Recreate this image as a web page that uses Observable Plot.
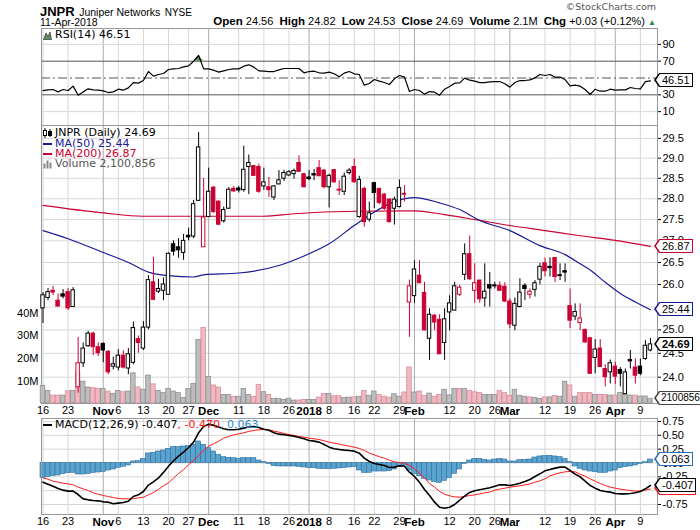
<!DOCTYPE html>
<html>
<head>
<meta charset="utf-8">
<script src="https://cdn.jsdelivr.net/npm/d3@7"></script>
<script src="https://cdn.jsdelivr.net/npm/@observablehq/plot@0.6"></script>
<style>
  html,body{margin:0;padding:0;background:#fff;}
  #wrap{position:relative;width:700px;height:530px;overflow:hidden;font-family:"Liberation Sans",Arial,sans-serif;color:#000;background:#fff;}
  .abs{position:absolute;white-space:nowrap;}
  .leg{position:absolute;white-space:nowrap;font-family:"DejaVu Sans",Verdana,sans-serif;font-size:11px;line-height:12px;height:12px;display:flex;align-items:center;z-index:20;}
  .leg svg{margin-right:3px;}
  .tag{position:absolute;z-index:15;background:#fff;border:1px solid #000;font-family:"Liberation Sans",Arial,sans-serif;font-size:11px;line-height:12px;height:12px;padding:0 2px 0 2px;white-space:nowrap;color:#000;}
  .tag .po{position:absolute;left:-6px;top:-1px;width:0;height:0;border-style:solid;border-width:7px 5px 7px 0;border-color:transparent;}
  .tag .pi{position:absolute;left:-4px;top:0px;width:0;height:0;border-style:solid;border-width:6px 4px 6px 0;border-color:transparent #fff transparent transparent;}
</style>
</head>
<body>
<div id="wrap"></div>
<script>
// ---------- DATA (trading days 16-Oct-2017 .. 11-Apr-2018, index 0..121) ----------
const openP = [
25.47,25.70,25.86,25.64,25.78,25.83,25.50,23.79,24.29,24.65,
24.92,24.63,24.70,24.53,24.22,24.20,24.45,24.18,24.30,24.80,
24.60,25.05,26.05,25.84,25.86,25.77,26.92,26.85,26.72,27.12,
27.10,27.95,26.85,27.56,28.27,27.93,27.46,27.76,28.24,28.25,
28.21,28.78,28.80,28.78,28.30,28.28,28.03,28.35,28.49,28.57,
28.60,28.88,28.60,28.52,28.60,28.75,28.69,28.28,28.70,28.22,
28.17,28.63,28.78,27.56,28.24,27.50,28.38,28.24,28.10,27.98,
27.76,27.80,28.12,25.60,25.74,26.20,25.81,24.81,25.31,25.22,
24.72,25.38,25.42,25.77,26.22,26.69,25.86,26.09,25.69,25.99,
25.98,25.97,25.95,25.62,25.09,25.50,25.97,25.77,25.88,26.11,
26.48,26.40,26.60,26.21,26.30,25.52,25.29,25.15,25.00,24.82,
24.40,24.60,24.17,24.10,24.22,24.15,23.65,24.36,24.20,24.22,
24.38,24.56];
const highP = [
25.82,25.91,25.96,25.79,25.89,25.91,25.93,24.84,24.72,24.97,
24.95,24.72,24.72,24.56,24.42,24.58,24.55,24.60,25.17,24.87,
25.18,26.20,26.62,26.12,26.15,26.72,27.00,27.05,27.15,27.30,
27.96,29.65,28.50,28.75,28.30,27.95,27.80,28.27,28.30,28.30,
29.30,29.08,28.82,28.85,28.75,28.52,28.32,28.69,28.70,28.69,
28.73,29.06,28.61,28.69,28.72,28.94,28.72,28.60,28.72,28.44,
28.63,28.74,28.98,28.55,28.28,27.92,28.40,28.25,28.13,28.00,
28.04,28.46,28.32,26.10,26.54,26.54,26.05,25.46,25.33,25.33,
25.46,25.75,26.05,25.98,26.93,27.11,26.47,26.09,26.47,26.27,
26.05,26.06,26.04,25.68,25.70,26.13,26.02,25.90,26.09,26.48,
26.60,26.61,26.61,26.47,26.47,25.90,25.57,25.57,25.02,24.84,
24.79,24.79,24.26,24.36,24.31,24.20,24.17,24.56,24.38,24.38,
24.77,24.82];
const lowP = [
25.14,25.64,25.75,25.50,25.68,25.42,25.50,23.67,24.20,24.63,
24.45,24.43,24.30,24.05,24.15,24.13,24.17,24.05,24.26,24.50,
24.56,25.00,25.64,25.80,25.64,25.77,26.65,26.60,26.55,27.00,
27.05,27.93,26.85,27.55,27.65,27.36,27.42,27.74,28.15,28.14,
28.16,28.10,28.55,28.13,28.20,28.03,27.96,28.34,28.42,28.54,
28.48,28.65,28.26,28.44,28.44,28.55,28.24,27.78,28.38,28.08,
28.08,28.58,28.38,27.53,27.32,27.44,27.76,27.86,27.72,27.42,
27.37,27.78,27.92,24.84,25.58,26.02,24.98,24.35,24.98,24.47,
24.35,24.98,25.42,25.73,26.09,26.09,25.58,25.58,25.50,25.50,
25.90,25.85,25.60,25.03,24.98,25.48,25.64,25.68,25.72,25.99,
26.17,26.17,26.04,26.09,26.05,25.03,25.20,24.98,24.72,24.06,
24.07,24.20,23.80,23.86,23.85,23.80,23.65,24.17,23.86,24.03,
24.35,24.53];
const closeP = [
25.76,25.83,25.82,25.51,25.73,25.47,25.87,24.29,24.60,24.92,
24.63,24.50,24.56,24.10,24.27,24.45,24.20,24.48,25.04,24.72,
25.05,26.10,25.66,25.90,26.00,26.70,26.75,26.78,27.00,27.08,
27.87,29.27,27.55,28.17,27.68,27.38,27.73,28.22,28.18,28.20,
28.71,28.88,28.56,28.17,28.40,28.21,28.30,28.45,28.63,28.65,
28.68,28.66,28.28,28.48,28.57,28.55,28.28,28.56,28.40,28.20,
28.54,28.69,28.40,28.46,27.44,27.65,28.14,27.90,27.76,27.44,
27.98,28.26,28.10,25.96,26.34,26.03,24.99,25.33,25.16,24.48,
25.23,25.58,25.96,25.93,26.69,26.12,26.03,25.67,25.84,25.91,
25.96,25.86,25.62,25.12,25.57,25.82,25.90,25.84,26.03,26.40,
26.30,26.37,26.17,26.19,26.27,25.20,25.39,25.25,24.73,24.07,
24.58,24.21,24.00,24.29,24.01,24.07,24.10,24.33,24.03,24.07,
24.66,24.69];
const volumeM = [
7.8,5.6,3.5,3.5,3.5,5.4,5.6,13.7,9.7,7.1,
6.8,6.5,6.5,5.3,4.3,5.6,5.0,5.3,13.4,7.1,
6.1,12.4,8.5,5.6,4.6,6.5,5.3,4.6,2.4,6.5,
8.7,28.2,33.6,11.8,8.0,7.1,3.8,3.8,3.0,3.0,
6.5,3.8,3.0,8.3,5.0,3.8,2.1,2.1,1.6,2.1,
1.3,1.3,1.6,1.6,1.6,2.6,4.2,4.2,3.2,3.2,
2.4,2.6,2.7,3.0,5.6,3.4,5.3,3.8,3.0,2.6,
4.1,3.0,4.9,16.0,4.9,5.3,3.4,4.4,3.0,3.8,
6.1,3.6,6.5,6.5,6.5,5.6,5.0,4.6,3.8,3.8,
3.8,5.6,4.6,3.4,6.1,3.4,3.0,2.7,2.4,2.0,
2.7,2.7,3.4,3.0,9.7,8.0,3.0,4.6,4.6,4.6,
3.8,3.8,3.8,3.5,3.5,4.6,3.8,3.5,3.5,3.1,
3.1,2.100856];
const rsi14 = [
35.1,35.9,36.3,33.5,36.3,35.1,40.3,29.5,33.5,37.1,
35.9,35.5,34.7,32.7,33.5,36.7,35.5,38.3,44.6,43.9,
47.0,57.7,52.2,54.2,55.4,60.1,60.9,61.3,63.3,64.5,
70.0,76.8,60.9,60.9,59.3,57.0,58.5,60.1,60.9,60.9,
64.1,65.7,62.9,58.5,58.1,57.7,57.7,59.7,61.3,61.3,
61.3,61.3,56.2,57.7,58.1,56.2,55.8,57.0,55.0,51.4,
55.8,57.7,55.0,54.2,41.5,43.5,48.2,46.3,44.7,42.3,
49.0,53.0,51.0,33.9,36.3,35.1,30.8,33.9,33.1,29.6,
36.7,39.9,43.9,44.2,49.8,47.4,46.2,44.6,44.6,45.4,
45.8,45.8,43.1,39.1,44.6,47.0,47.0,47.8,50.2,54.2,
53.0,54.2,51.0,51.0,48.2,40.7,41.5,40.3,36.3,30.4,
36.7,34.3,34.3,36.7,35.5,35.9,35.9,38.7,37.5,37.1,
45.8,46.51];
const macdLine = [
-0.347,-0.383,-0.419,-0.461,-0.491,-0.509,-0.509,-0.570,-0.648,-0.666,
-0.678,-0.684,-0.702,-0.708,-0.738,-0.726,-0.714,-0.690,-0.606,-0.576,
-0.515,-0.400,-0.340,-0.270,-0.170,-0.060,0.040,0.124,0.196,0.280,
0.377,0.546,0.660,0.700,0.680,0.650,0.620,0.600,0.600,0.610,
0.630,0.650,0.660,0.640,0.610,0.590,0.546,0.521,0.509,0.497,
0.485,0.461,0.437,0.407,0.395,0.377,0.335,0.286,0.256,0.244,
0.232,0.226,0.214,0.178,0.087,0.027,-0.009,-0.027,-0.045,-0.081,
-0.075,-0.051,-0.057,-0.166,-0.244,-0.347,-0.479,-0.588,-0.708,-0.799,
-0.817,-0.799,-0.750,-0.672,-0.600,-0.533,-0.503,-0.485,-0.467,-0.449,
-0.419,-0.395,-0.395,-0.407,-0.389,-0.365,-0.335,-0.298,-0.244,-0.196,
-0.142,-0.118,-0.093,-0.075,-0.075,-0.136,-0.202,-0.250,-0.329,-0.407,
-0.455,-0.497,-0.515,-0.527,-0.552,-0.558,-0.558,-0.552,-0.539,-0.515,
-0.467,-0.407];
const macdSignal = [
-0.268,-0.292,-0.328,-0.347,-0.365,-0.377,-0.395,-0.437,-0.467,-0.497,
-0.539,-0.564,-0.588,-0.606,-0.624,-0.642,-0.648,-0.648,-0.648,-0.630,
-0.618,-0.576,-0.533,-0.479,-0.413,-0.359,-0.274,-0.190,-0.118,-0.033,
0.045,0.136,0.226,0.304,0.347,0.395,0.449,0.479,0.509,0.527,
0.546,0.570,0.588,0.600,0.606,0.600,0.576,0.558,0.533,0.515,
0.497,0.479,0.467,0.449,0.437,0.425,0.401,0.377,0.359,0.341,
0.322,0.304,0.286,0.262,0.226,0.178,0.148,0.112,0.087,0.051,
0.021,0.009,-0.003,-0.045,-0.105,-0.190,-0.270,-0.370,-0.437,-0.515,
-0.564,-0.594,-0.612,-0.618,-0.606,-0.588,-0.576,-0.558,-0.539,-0.527,
-0.491,-0.473,-0.455,-0.437,-0.425,-0.413,-0.395,-0.377,-0.347,-0.322,
-0.286,-0.232,-0.202,-0.178,-0.160,-0.154,-0.160,-0.202,-0.238,-0.286,
-0.328,-0.371,-0.407,-0.437,-0.455,-0.473,-0.485,-0.497,-0.509,-0.503,
-0.491,-0.470];
const macdHist = [
-0.274,-0.256,-0.238,-0.226,-0.202,-0.184,-0.178,-0.208,-0.208,-0.202,
-0.178,-0.172,-0.160,-0.136,-0.118,-0.087,-0.069,-0.045,0.027,0.033,
0.075,0.172,0.184,0.208,0.226,0.256,0.286,0.286,0.298,0.304,
0.328,0.389,0.328,0.268,0.208,0.148,0.105,0.093,0.087,0.075,
0.087,0.087,0.087,0.045,0.015,-0.015,-0.057,-0.063,-0.063,-0.063,
-0.063,-0.069,-0.081,-0.093,-0.093,-0.105,-0.111,-0.111,-0.105,-0.099,
-0.093,-0.081,-0.075,-0.136,-0.178,-0.178,-0.154,-0.154,-0.154,-0.148,
-0.118,-0.069,-0.045,-0.136,-0.196,-0.238,-0.286,-0.316,-0.347,-0.359,
-0.322,-0.274,-0.196,-0.118,-0.015,0.045,0.075,0.075,0.057,0.045,
0.063,0.075,0.063,0.027,0.027,0.051,0.057,0.063,0.099,0.118,
0.124,0.130,0.118,0.105,0.075,0.015,-0.063,-0.105,-0.136,-0.154,
-0.166,-0.178,-0.178,-0.154,-0.136,-0.093,-0.075,-0.063,-0.045,-0.015,
0.015,0.063];
const ma50Idx = [0,5,12,17,21,25,30,32,39,47,52,57,62,66,70,74,79,83,87,93,99,104,107,109,112,115,118,121];
const ma50Val = [27.24,27.05,26.73,26.50,26.28,26.20,26.17,26.22,26.26,26.43,26.65,26.93,27.36,27.68,27.93,28.03,27.90,27.74,27.48,27.24,26.89,26.68,26.47,26.33,26.05,25.80,25.61,25.44];
const ma200Idx = [0,12,20,32,44,50,62,74,80,87,93,100,107,114,121];
const ma200Val = [27.84,27.66,27.58,27.58,27.58,27.64,27.70,27.71,27.62,27.48,27.36,27.24,27.12,27.01,26.87];
const tickIdx = [0,5,12,15,20,25,29,33,39,44,49,53,57,62,66,71,74,81,86,90,93,100,105,110,114,119];
const tickLabel = ["16","23","Nov","6","13","20","27","Dec","11","18","26","2018","8","16","22","29","Feb","12","20","26","Mar","12","19","26","Apr","9"];
const monthNames = ["Nov","Dec","2018","Feb","Mar","Apr"];
const priceTicks = [24,24.5,25,25.5,26,26.5,27,27.5,28,28.5,29,29.5];
const volTicks = [10,20,30,40];
const rsiTicks = [10,30,70,90];
const macdTicks = [-0.75,-0.5,-0.25,0,0.25,0.5,0.75];

// ---------- derived tables ----------
const RED = "#cc0033", NAVY = "#1a1a96";
const N = closeP.length;
const days = closeP.map((c, i) => ({
  i, o: openP[i], h: highP[i], l: lowP[i], c, v: volumeM[i],
  up: i === 0 || c >= closeP[i - 1], hollow: c > openP[i]
}));
const tickMap = new Map(tickIdx.map((t, k) => [t, tickLabel[k]]));
const monthTicks = tickIdx.filter(t => monthNames.includes(tickMap.get(t)));
const weekTicks = tickIdx.filter(t => !monthNames.includes(tickMap.get(t)));
const ma50 = ma50Idx.map((i, k) => ({i, v: ma50Val[k]}));
const ma200 = ma200Idx.map((i, k) => ({i, v: ma200Val[k]}));
const rsiData = rsi14.map((r, i) => ({i, r}));
const macdData = macdLine.map((m, i) => ({i, m, s: macdSignal[i], h: macdHist[i]}));

const XD = [-0.3, 122.41];
const ML = 41, MR = 43;
const baseStyle = {background: "transparent", overflow: "visible", fontFamily: "Liberation Sans, Arial, sans-serif", fontSize: "11px", color: "#000"};
const wrap = document.getElementById("wrap");
function place(node, top, z) {
  node.style.position = "absolute";
  node.style.left = "0px";
  node.style.top = top + "px";
  node.style.zIndex = z;
  wrap.appendChild(node);
  return node;
}
const vGrid = () => [
  Plot.ruleX(weekTicks, {stroke: "#d6d6d6"}),
  Plot.ruleX(monthTicks, {stroke: "#ababab"})
];
const xAxes = () => [
  Plot.axisX(weekTicks, {anchor: "bottom", label: null, tickSize: 0, tickPadding: 3, fontSize: 11, tickFormat: t => tickMap.get(t)}),
  Plot.axisX(monthTicks, {anchor: "bottom", label: null, tickSize: 0, tickPadding: 3, fontSize: 11.5, fontWeight: "bold", tickFormat: t => tickMap.get(t)})
];

// ---------- RSI panel ----------
const TOP_RSI = 27, TOP_MAIN = 124, TOP_MACD = 417;
const rsiChart = Plot.plot({
  width: 700, height: 99, marginTop: 1, marginBottom: 1, marginLeft: ML, marginRight: MR,
  style: baseStyle,
  x: {domain: XD, axis: null, label: null},
  y: {domain: [-6.5, 108.9], label: null},
  marks: [
    ...vGrid(),
    Plot.ruleY([10, 90], {stroke: "#d6d6d6"}),
    Plot.ruleY([30, 70], {stroke: "#555"}),
    Plot.ruleY([50], {stroke: "#555", strokeDasharray: "9,3,2,3"}),
    Plot.areaY(rsiData, {x: "i", y1: 70, y2: d => Math.max(d.r, 70), fill: "#5e8f5e"}),
    Plot.line(rsiData, {x: "i", y: "r", stroke: "#000", strokeWidth: 1.2}),
    Plot.axisY(rsiTicks, {anchor: "right", label: null, tickSize: 3, tickPadding: 2, fontSize: 11, tickFormat: d => String(d)}),
    Plot.frame({stroke: "#999"})
  ]
});
place(rsiChart, TOP_RSI, 1);

// ---------- main panel: grid layer ----------
const YD = [23.46, 29.83];
const mainGrid = Plot.plot({
  width: 700, height: 294, marginTop: 1, marginBottom: 15, marginLeft: ML, marginRight: MR,
  style: baseStyle,
  x: {domain: XD, label: null},
  y: {type: "log", domain: YD, label: null},
  marks: [
    Plot.ruleY(priceTicks, {stroke: "#d6d6d6"}),
    ...vGrid(),
    Plot.axisY(priceTicks, {anchor: "right", label: null, tickSize: 3, tickPadding: 2, fontSize: 11, tickFormat: d => d.toFixed(1)}),
    ...xAxes(),
    Plot.frame({stroke: "#999"})
  ]
});
place(mainGrid, TOP_MAIN, 2);

// ---------- main panel: volume layer ----------
const volChart = Plot.plot({
  width: 700, height: 294, marginTop: 1, marginBottom: 15, marginLeft: ML, marginRight: MR,
  style: baseStyle,
  x: {domain: XD, axis: null, label: null},
  y: {domain: [0, 123.4], label: null},
  color: {type: "identity"},
  marks: [
    Plot.rect(days, {x1: d => d.i - 0.45, x2: d => d.i + 0.45, y1: 0, y2: "v",
      fill: d => d.up ? "#bdbdbd" : "#f0b9c1", stroke: d => d.up ? "#8f8f8f" : "#d98d9b", strokeWidth: 0.8}),
    Plot.axisY(volTicks, {anchor: "left", label: null, tickSize: 0, tickPadding: 3, fontSize: 11, tickFormat: d => d + "M"})
  ]
});
place(volChart, TOP_MAIN, 3);

// ---------- main panel: price layer ----------
const priceChart = Plot.plot({
  width: 700, height: 294, marginTop: 1, marginBottom: 15, marginLeft: ML, marginRight: MR,
  style: baseStyle,
  x: {domain: XD, axis: null, label: null},
  y: {type: "log", domain: YD, axis: null, label: null},
  color: {type: "identity"},
  marks: [
    Plot.line(ma200, {x: "i", y: "v", stroke: RED, strokeWidth: 1.2, curve: "monotone-x"}),
    Plot.line(ma50, {x: "i", y: "v", stroke: NAVY, strokeWidth: 1.2, curve: "monotone-x"}),
    Plot.ruleX(days, {x: "i", y1: "l", y2: "h", stroke: d => d.up ? "#000" : RED, strokeWidth: 1}),
    Plot.rect(days, {x1: d => d.i - 0.34, x2: d => d.i + 0.34,
      y1: d => Math.min(d.o, d.c), y2: d => Math.max(d.o, d.c),
      fill: d => d.hollow ? "#fff" : (d.up ? "#000" : RED), stroke: d => d.up ? "#000" : RED, strokeWidth: 1})
  ]
});
place(priceChart, TOP_MAIN, 4);

// ---------- MACD panel ----------
const macdChart = Plot.plot({
  width: 700, height: 113, marginTop: 1, marginBottom: 16, marginLeft: ML, marginRight: MR,
  style: baseStyle,
  x: {domain: XD, label: null},
  y: {domain: [-0.931, 0.804], label: null},
  marks: [
    Plot.ruleY(macdTicks, {stroke: "#d6d6d6"}),
    ...vGrid(),
    Plot.rect(macdData, {x1: d => d.i - 0.5, x2: d => d.i + 0.5, y1: 0, y2: "h", fill: "#5aa3cf", stroke: "#2e6e9e", strokeWidth: 0.6}),
    Plot.line(macdData, {x: "i", y: "s", stroke: "#ff1a1a", strokeWidth: 1}),
    Plot.line(macdData, {x: "i", y: "m", stroke: "#000", strokeWidth: 1.6}),
    Plot.axisY(macdTicks, {anchor: "right", label: null, tickSize: 3, tickPadding: 2, fontSize: 11, tickFormat: d => d.toFixed(2)}),
    ...xAxes(),
    Plot.frame({stroke: "#999"})
  ]
});
place(macdChart, TOP_MACD, 5);

// ---------- value tags on the right axis (positions from the Plot scales) ----------
function addTag(chart, top, value, label, color, bold, size) {
  const y = chart.scale("y").apply(value) + top;
  const x = chart.scale("x").range[1];
  const d = document.createElement("div");
  d.className = "tag";
  d.style.left = (x + 2) + "px";
  d.style.top = (y - 7) + "px";
  d.style.borderColor = color;
  if (bold) d.style.fontWeight = "bold";
  if (size) { d.style.fontSize = size + "px"; d.style.paddingLeft = "1px"; }
  d.innerHTML = `<span class="po" style="border-right-color:${color}"></span><span class="pi"></span>${label}`;
  wrap.appendChild(d);
}
addTag(rsiChart, TOP_RSI, rsi14[N - 1], rsi14[N - 1].toFixed(2), "#000", false);
addTag(priceChart, TOP_MAIN, ma200Val[ma200Val.length - 1], ma200Val[ma200Val.length - 1].toFixed(2), RED, false);
addTag(priceChart, TOP_MAIN, ma50Val[ma50Val.length - 1], ma50Val[ma50Val.length - 1].toFixed(2), NAVY, false);
addTag(priceChart, TOP_MAIN, closeP[N - 1], closeP[N - 1].toFixed(2), "#000", true);
addTag(volChart, TOP_MAIN, volumeM[N - 1], String(Math.round(volumeM[N - 1] * 1e6)), "#444", false, 10);
addTag(macdChart, TOP_MACD, macdSignal[N - 1], macdSignal[N - 1].toFixed(3), "#ff1a1a", false);
addTag(macdChart, TOP_MACD, macdLine[N - 1], macdLine[N - 1].toFixed(3), "#000", false);
addTag(macdChart, TOP_MACD, macdHist[N - 1], macdHist[N - 1].toFixed(3), "#2a6fb5", false);

// ---------- header ----------
function div(html, style) {
  const d = document.createElement("div");
  d.className = "abs";
  d.setAttribute("style", style);
  d.innerHTML = html;
  d.style.zIndex = 20;
  wrap.appendChild(d);
  return d;
}
const chg = closeP[N - 1] - closeP[N - 2];
const pct = chg / closeP[N - 2] * 100;
const sgn = v => (v >= 0 ? "+" : "-") + Math.abs(v).toFixed(2);
div('<span style="font-weight:bold;font-size:13px">JNPR</span> <span style="font-size:10.5px">Juniper Networks</span> <span style="font-size:10px">NYSE</span>', "left:40px;top:2px;");
div('11-Apr-2018', "left:40px;top:16px;font-size:10.5px;");
div(`<b style="font-size:11.5px">Open</b> ${openP[N-1].toFixed(2)} &nbsp;<b style="font-size:11.5px">High</b> ${highP[N-1].toFixed(2)} &nbsp;<b style="font-size:11.5px">Low</b> ${lowP[N-1].toFixed(2)} &nbsp;<b style="font-size:11.5px">Close</b> ${closeP[N-1].toFixed(2)} &nbsp;<b style="font-size:11.5px">Volume</b> ${volumeM[N-1].toFixed(1)}M &nbsp;<b style="font-size:11.5px">Chg</b> ${sgn(chg)} (${sgn(pct)}%) <span style="color:#1f8a3a;font-size:8px">&#9650;</span>`,
  "right:44px;top:15px;font-size:11px;");
div('&copy;StockCharts.com', "right:44px;top:1px;font-family:'DejaVu Sans',Verdana,sans-serif;font-size:9.5px;color:#555;");

// ---------- legends ----------
function legend(top, icon, html) {
  const d = document.createElement("div");
  d.className = "leg";
  d.style.left = "43px";
  d.style.top = top + "px";
  d.innerHTML = icon + html;
  wrap.appendChild(d);
}
const lineIcon = c => `<svg width="9" height="10"><line x1="0" y1="5" x2="9" y2="5" stroke="${c}" stroke-width="2"/></svg>`;
legend(29, '<svg width="9" height="9"><path d="M0.5,8.5 L3,2 L5,5.5 L7,1 L8.5,8.5Z" fill="#5e8f5e" stroke="#333" stroke-width="0.7"/></svg>',
  `RSI(14) ${rsi14[N-1].toFixed(2)}`);
legend(127, '<svg width="9" height="10"><line x1="2" y1="0" x2="2" y2="10" stroke="#000"/><rect x="0.5" y="2.5" width="3" height="5" fill="#fff" stroke="#000"/><line x1="7" y1="1" x2="7" y2="9" stroke="#000"/><rect x="5.5" y="3.5" width="3" height="4" fill="#000" stroke="#000"/></svg>',
  `JNPR (Daily) ${closeP[N-1].toFixed(2)}`);
legend(137.5, lineIcon(NAVY), `<span style="color:${NAVY}">MA(50) ${ma50Val[ma50Val.length-1].toFixed(2)}</span>`);
legend(147.7, lineIcon(RED), `<span style="color:${RED}">MA(200) ${ma200Val[ma200Val.length-1].toFixed(2)}</span>`);
legend(158.3, '<svg width="9" height="10"><rect x="0.5" y="4.5" width="2" height="5" fill="#888"/><rect x="3.5" y="1.5" width="2" height="8" fill="#888"/><rect x="6.5" y="3.5" width="2" height="6" fill="#888"/></svg>',
  `<span style="color:#555">Volume ${d3.format(",")(Math.round(volumeM[N-1]*1e6))}</span>`);
legend(418.5, lineIcon("#000"),
  `MACD(12,26,9) ${macdLine[N-1].toFixed(3)}<span style="color:#ff1a1a">, ${macdSignal[N-1].toFixed(3)}</span><span style="color:#2a8fd0">, ${macdHist[N-1].toFixed(3)}</span>`);
</script>
</body>
</html>
